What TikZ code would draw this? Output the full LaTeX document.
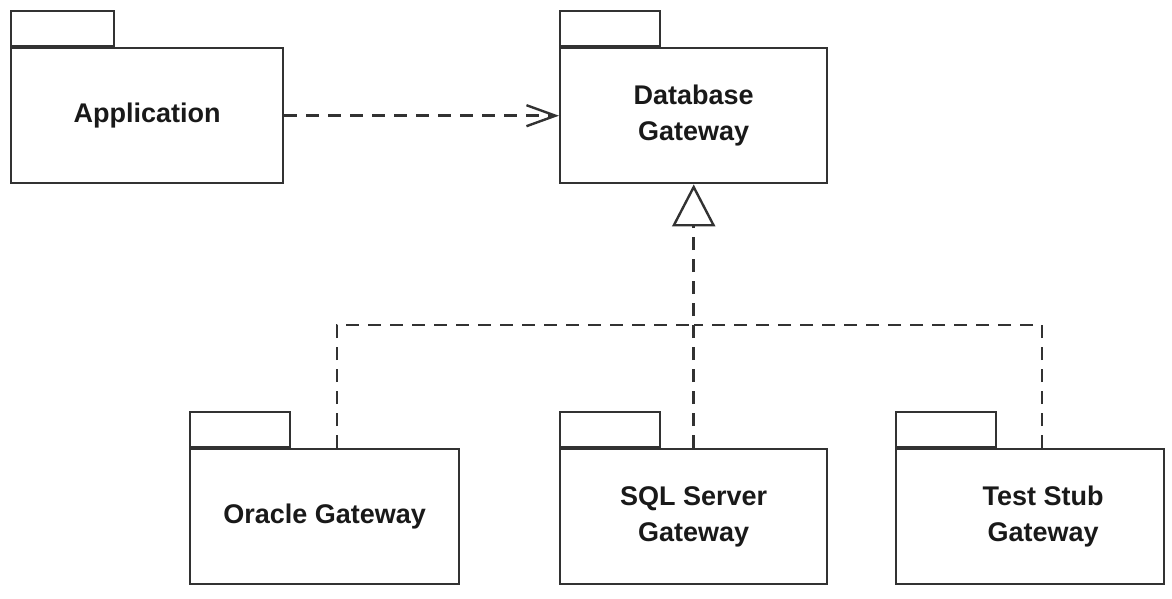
\documentclass[tikz,border=0pt]{standalone}
\usepackage{fontspec}
\setmainfont{Liberation Sans}
\usetikzlibrary{arrows.meta,positioning}
\definecolor{linec}{RGB}{50,50,50}
\definecolor{textc}{RGB}{25,25,25}
\tikzset{
  pkgbody/.style={draw=linec, line width=2.4pt, minimum width=#1, minimum height=135pt, inner sep=0pt, anchor=north west,
    font=\bfseries\fontsize{27}{36}\selectfont, text=textc, align=center},
  pkgbody/.default=267pt,
  pkgtab/.style={draw=linec, line width=2.4pt, minimum width=100pt, minimum height=35pt, inner sep=0pt, anchor=south west},
  depline/.style={draw=linec, line width=2.6pt, dash pattern=on 13pt off 9pt},
}
\begin{document}
\begin{tikzpicture}[x=1pt,y=-1pt]
\useasboundingbox (0,0) rectangle (1172,598);
% packages
\node[pkgbody=272pt] (app) at (10,47) {Application};
\node[pkgtab, minimum width=103pt] (appt) at (app.north west) {};
\node[pkgbody] (db) at (559,47) {Database\\Gateway};
\node[pkgtab] (dbt) at (db.north west) {};
\node[pkgbody=269pt] (ora) at (189,448) {Oracle Gateway};
\node[pkgtab] (orat) at (ora.north west) {};
\node[pkgbody] (sql) at (559,448) {SQL Server\\Gateway};
\node[pkgtab] (sqlt) at (sql.north west) {};
\node[pkgbody=268pt] (tst) at (895,448) {};
\node[pkgtab] (tstt) at (tst.north west) {};
\node[font=\bfseries\fontsize{27}{36}\selectfont, text=textc, align=center] (tstl) at ([xshift=13pt]tst.center) {Test Stub\\Gateway};
% dependency
\draw[depline, -{Straight Barb[length=29pt, width=21pt, line width=2.4pt]}] (app.east) -- (db.west);
% realization
\coordinate (junc) at (db.south |- 0,325);
\draw[depline, -{Triangle[open, length=42pt, width=43pt, line width=2.4pt]}] (sql.north) -- (db.south);
\draw[depline] ([xshift=148pt]ora.north west) |- (junc);
\draw[depline] ([xshift=147pt]tst.north west) |- (junc);
\end{tikzpicture}
\end{document}
